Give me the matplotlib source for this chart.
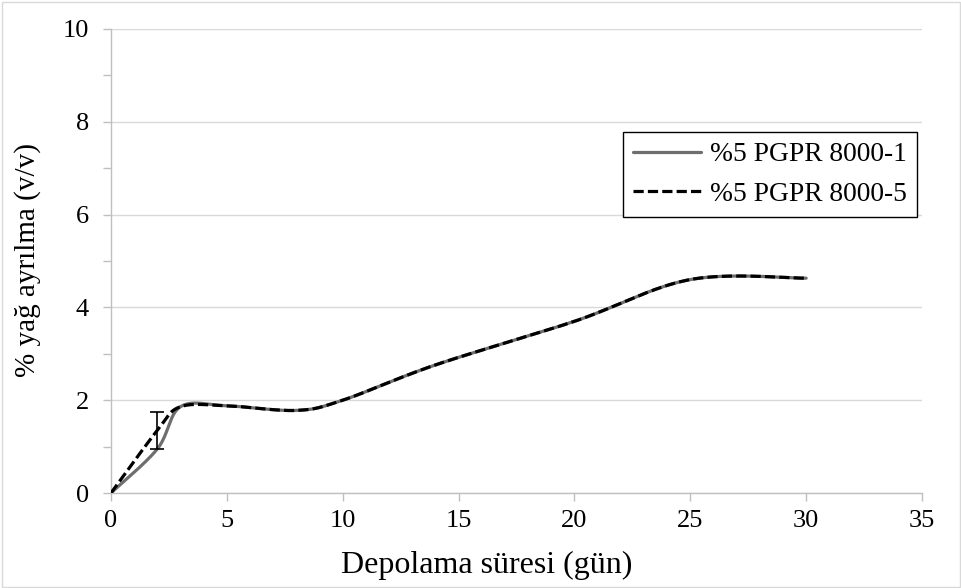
import numpy as np
import matplotlib
matplotlib.use("Agg")
import matplotlib.pyplot as plt
from matplotlib.patches import Rectangle

# ---- data ----
days = [0, 2, 3, 5, 8, 10, 14, 20, 25, 30]
pgpr_1 = [0.0, 0.95, 1.86, 1.88, 1.78, 2.0, 2.76, 3.70, 4.60, 4.63]
pgpr_5 = [0.0, 1.35, 1.86, 1.88, 1.78, 2.0, 2.76, 3.70, 4.60, 4.63]
err_day = [2]
err_val = [1.35]
err_size = [0.40]
labels = ["%5 PGPR 8000-1", "%5 PGPR 8000-5"]
x_ticks = [0, 5, 10, 15, 20, 25, 30, 35]
y_ticks = [0, 2, 4, 6, 8, 10]


def excel_smooth(xs, ys, n=40):
    """Excel-style smoothed line: cubic Bezier with control points from neighbours."""
    P = np.column_stack([xs, ys]).astype(float)
    out = []
    m = len(P)
    for i in range(m - 1):
        p0 = P[i - 1] if i > 0 else P[i]
        p1 = P[i]
        p2 = P[i + 1]
        p3 = P[i + 2] if i + 2 < m else P[i + 1]
        b1 = p1 + (p2 - p0) / 6.0
        b2 = p2 - (p3 - p1) / 6.0
        t = np.linspace(0, 1, n)[:, None]
        seg = ((1 - t) ** 3) * p1 + 3 * ((1 - t) ** 2) * t * b1 + 3 * (1 - t) * t ** 2 * b2 + t ** 3 * p2
        if i > 0:
            seg = seg[1:]
        out.append(seg)
    out = np.vstack(out)
    return out[:, 0], out[:, 1]


plt.rcParams["font.family"] = ["Liberation Serif", "DejaVu Serif"]
fig = plt.figure(figsize=(9.62, 5.88), dpi=100)
ax = fig.add_axes([111 / 962, 1 - 493 / 588, (922 - 111) / 962, (493 - 29) / 588])

grid_c = "#d9d9d9"
spine_c = "#bfbfbf"

x1, y1 = excel_smooth(days, pgpr_1)
x2, y2 = excel_smooth(days, pgpr_5)
ax.plot(x1, y1, color="#6e6e6e", lw=2.3, solid_capstyle="round", label=labels[0], zorder=3)
ax.plot(x2, y2, color="black", lw=2.3, dashes=(3.2, 1.3), label=labels[1], zorder=4)
ax.errorbar(err_day, err_val, yerr=err_size, fmt="none", ecolor="black",
            elinewidth=1.2, capsize=5, capthick=1.2, zorder=5)

ax.set_xlim(0, 35)
ax.set_ylim(0, 10)
ax.set_xticks(x_ticks)
ax.set_yticks(y_ticks)
ax.set_yticks([1, 3, 5, 7, 9], minor=True)
ax.yaxis.grid(True, which="major", color=grid_c, lw=1.0)
ax.set_axisbelow(True)
for s in ["top", "right"]:
    ax.spines[s].set_visible(False)
for s in ["left", "bottom"]:
    ax.spines[s].set_color(spine_c)
    ax.spines[s].set_linewidth(1.0)
ax.tick_params(axis="both", which="both", direction="out", length=6, width=1.0,
               color=spine_c, labelsize=19, labelcolor="black")
ax.tick_params(axis="y", pad=10)
ax.tick_params(axis="x", pad=6)

ax.set_xlabel("Depolama süresi (gün)", fontsize=23)
ax.set_ylabel("% yağ ayrılma (v/v)", fontsize=21)
ax.xaxis.set_label_coords(487 / 962, 1 - 565 / 588, transform=fig.transFigure)
ax.xaxis.label.set_va("center")
ax.yaxis.set_label_coords(28 / 962, 1 - 260 / 588, transform=fig.transFigure)
ax.yaxis.label.set_va("center")

leg = ax.legend(loc="upper right", bbox_to_anchor=(917 / 962, 1 - 132 / 588),
                bbox_transform=fig.transFigure, borderaxespad=0, fancybox=False,
                framealpha=1, edgecolor="black", fontsize=19.8, handlelength=2.47,
                handletextpad=0.33, labelspacing=0.52, borderpad=0.36)
leg.get_frame().set_linewidth(1.0)

fig.patches.append(Rectangle((0.002, 0.002), 0.996, 0.995, transform=fig.transFigure,
                             fill=False, edgecolor="#d9d9d9", lw=1.0))

fig.savefig("out.png", dpi=100)
